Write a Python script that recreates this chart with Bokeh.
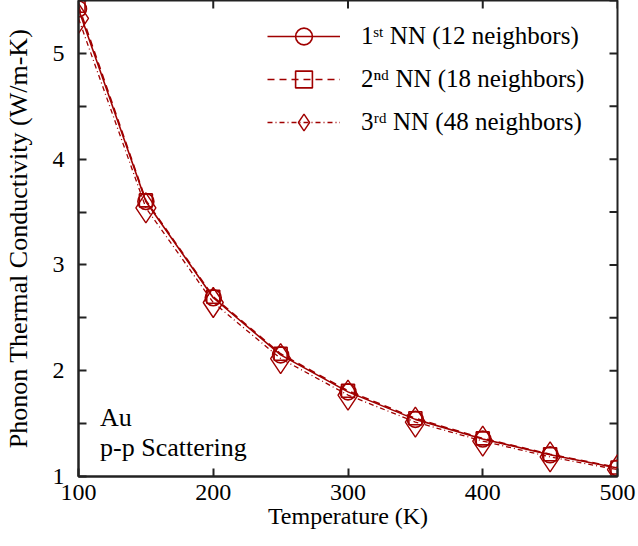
import math
from bokeh.plotting import figure
from bokeh.embed import file_html
from bokeh.resources import INLINE
from bokeh.models import Range1d, FixedTicker, Legend, LegendItem, Label

# ---- data ----
temperature = [100, 150, 200, 250, 300, 350, 400, 450, 500]
nn1_12 = [5.42, 3.60, 2.69, 2.15, 1.80, 1.54, 1.355, 1.205, 1.08]
nn2_18 = [5.45, 3.61, 2.70, 2.16, 1.81, 1.55, 1.36, 1.21, 1.085]
nn3_48 = [5.33, 3.54, 2.645, 2.115, 1.77, 1.515, 1.335, 1.185, 1.065]

x_ticks = [100, 200, 300, 400, 500]
y_ticks = [1, 2, 3, 4, 5]
y_minor_ticks = [1.5, 2.5, 3.5, 4.5, 5.5]

labels = ["1\u02e2\u1d57 NN (12 neighbors)",
          "2\u207f\u1d48 NN (18 neighbors)",
          "3\u02b3\u1d48 NN (48 neighbors)"]

X_MIN, X_MAX = 100, 500
Y_MIN, Y_MAX = 1, 5.5

COLOR = "#a00000"
FONT = "Liberation Serif"
AXC = "#222222"

p = figure(width=638, height=546, output_backend="svg", toolbar_location=None,
           x_range=Range1d(X_MIN, X_MAX), y_range=Range1d(Y_MIN, Y_MAX),
           min_border_left=78, min_border_right=21, min_border_top=0,
           min_border_bottom=70)
p.background_fill_color = "white"
p.border_fill_color = "white"
p.grid.visible = False
p.outline_line_color = AXC
p.outline_line_width = 2

r1l = p.line(temperature, nn1_12, line_color=COLOR, line_width=1.6)
r1m = p.scatter(temperature, nn1_12, marker="circle", size=16, fill_color=None,
                line_color=COLOR, line_width=1.6)
r2l = p.line(temperature, nn2_18, line_color=COLOR, line_width=1.6, line_dash="7 5")
r2m = p.scatter(temperature, nn2_18, marker="square", size=13, fill_color=None,
                line_color=COLOR, line_width=1.6)
r3l = p.line(temperature, nn3_48, line_color=COLOR, line_width=1.3, line_dash="5 3 1 3")
r3m = p.scatter(temperature, nn3_48, marker="diamond", size=30, fill_color=None,
                line_color=COLOR, line_width=1.4)

# mirrored inward ticks on the top and right edges of the frame
p.ray(x=x_ticks, y=[Y_MAX] * len(x_ticks), length=8, length_units="screen",
      angle=-math.pi / 2, line_color=AXC, line_width=2)
yr_all = y_ticks + y_minor_ticks
p.ray(x=[X_MAX] * len(yr_all), y=yr_all, length=8, length_units="screen",
      angle=math.pi, line_color=AXC, line_width=2)

def style_axis(ax):
    ax.axis_line_color = AXC
    ax.axis_line_width = 2
    ax.major_tick_line_color = AXC
    ax.major_tick_line_width = 2
    ax.major_tick_in = 8
    ax.major_tick_out = 0
    ax.minor_tick_line_color = AXC
    ax.minor_tick_line_width = 2
    ax.minor_tick_in = 8
    ax.minor_tick_out = 0
    ax.major_label_text_font = FONT
    ax.major_label_text_color = "black"
    ax.major_label_text_font_size = "24px"
    ax.axis_label_text_font = FONT
    ax.axis_label_text_color = "black"
    ax.axis_label_text_font_style = "normal"

xb = p.xaxis[0]
xb.ticker = FixedTicker(ticks=x_ticks, minor_ticks=[])
style_axis(xb)
xb.major_label_standoff = 8
xb.axis_label = "Temperature (K)"
xb.axis_label_text_font_size = "24px"
xb.axis_label_standoff = 0

yl = p.yaxis[0]
yl.ticker = FixedTicker(ticks=y_ticks, minor_ticks=y_minor_ticks)
style_axis(yl)
yl.major_label_standoff = 14
yl.axis_label = "Phonon Thermal Conductivity (W/m-K)"
yl.axis_label_text_font_size = "26px"
yl.axis_label_standoff = 17

legend = Legend(items=[LegendItem(label=labels[0], renderers=[r1l, r1m]),
                       LegendItem(label=labels[1], renderers=[r2l, r2m]),
                       LegendItem(label=labels[2], renderers=[r3l, r3m])],
                location=(189, 333))
legend.border_line_color = None
legend.background_fill_alpha = 0
legend.padding = 0
legend.margin = 0
legend.glyph_width = 73
legend.glyph_height = 42
legend.spacing = 1
legend.label_standoff = 21
legend.label_text_font = FONT
legend.label_text_font_size = "25px"
legend.label_text_color = "black"
legend.label_text_baseline = "middle"
p.add_layout(legend, "center")

p.add_layout(Label(x=116, y=1.56, text="Au", text_font=FONT, text_font_size="26px",
                   text_color="black", text_baseline="alphabetic"))
p.add_layout(Label(x=116, y=1.27, text="p-p Scattering", text_font=FONT,
                   text_font_size="26px", text_color="black",
                   text_baseline="alphabetic"))

open("out.html", "w").write(file_html(p, INLINE))
